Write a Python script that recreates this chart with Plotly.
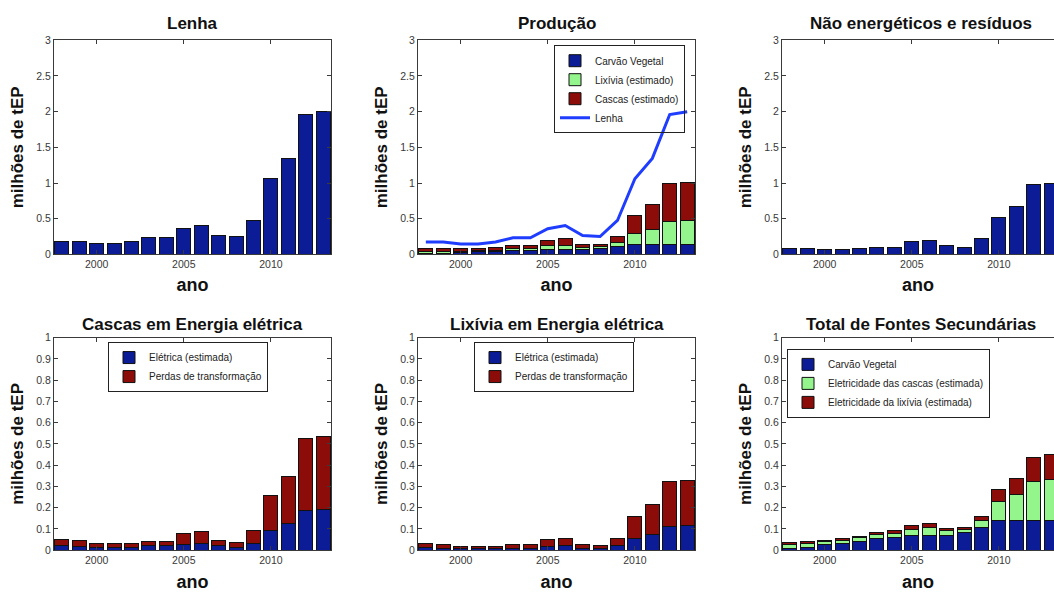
import plotly.graph_objects as go

# Anos da série
anos = list(range(1998, 2014))

# Lenha consumida (milhões de tEP)
lenha = [0.174, 0.174, 0.146, 0.146, 0.174, 0.233, 0.233, 0.36, 0.405, 0.265,
         0.25, 0.475, 1.06, 1.345, 1.96, 2.0]

# Usos não energéticos e resíduos
nao_energeticos = [0.087, 0.087, 0.072, 0.072, 0.087, 0.10, 0.10, 0.175, 0.19, 0.12,
                   0.10, 0.22, 0.52, 0.665, 0.975, 1.0]

# Carvão vegetal produzido
carvao = [0.006, 0.015, 0.025, 0.034, 0.043, 0.055, 0.061, 0.071, 0.071, 0.071,
          0.083, 0.105, 0.138, 0.138, 0.138, 0.142]

# Cascas convertidas em energia elétrica
cascas_eletrica = [0.020, 0.018, 0.015, 0.014, 0.015, 0.020, 0.020, 0.027, 0.034, 0.020,
                   0.015, 0.034, 0.092, 0.125, 0.186, 0.191]
cascas_perdas = [0.030, 0.028, 0.019, 0.017, 0.019, 0.021, 0.021, 0.052, 0.056, 0.026,
                 0.022, 0.061, 0.164, 0.220, 0.341, 0.346]

# Lixívia convertida em energia elétrica
lixivia_eletrica = [0.012, 0.010, 0.008, 0.008, 0.008, 0.010, 0.010, 0.017, 0.021, 0.010,
                    0.008, 0.021, 0.055, 0.074, 0.112, 0.117]
lixivia_perdas = [0.019, 0.016, 0.010, 0.010, 0.010, 0.016, 0.016, 0.034, 0.036, 0.016,
                  0.013, 0.036, 0.102, 0.140, 0.213, 0.212]

# Totais estimados de cascas e lixívia
cascas_total = [a + b for a, b in zip(cascas_eletrica, cascas_perdas)]
lixivia_total = [a + b for a, b in zip(lixivia_eletrica, lixivia_perdas)]

titulos = ["Lenha", "Produção", "Não energéticos e resíduos",
           "Cascas em Energia elétrica", "Lixívia em Energia elétrica",
           "Total de Fontes Secundárias"]

AZUL = "#0b1c96"
VERDE = "#94f58c"
VERMELHO = "#8b0c08"
LINHA = "#1f3dff"
BORDA = dict(color="#111111", width=1)
FONTE = "Liberation Sans, Arial, sans-serif"

W, H = 1054, 592
col_px = [(54, 331), (418, 695), (782, 1059)]
row_px = [(35, 253.5), (338.5, 555.5)]

fig = go.Figure()


def barra(y, cor, nome, eixo, legenda=None):
    return go.Bar(
        x=anos, y=y, name=nome, marker=dict(color=cor, line=BORDA),
        xaxis="x" + eixo, yaxis="y" + eixo,
        showlegend=legenda is not None, legend=legenda or "legend",
    )


# Painel 1: Lenha
fig.add_trace(barra(lenha, AZUL, "Lenha", ""))

# Painel 2: Produção
fig.add_trace(barra(carvao, AZUL, "Carvão Vegetal", "2", "legend"))
fig.add_trace(barra(lixivia_total, VERDE, "Lixívia (estimado)", "2", "legend"))
fig.add_trace(barra(cascas_total, VERMELHO, "Cascas (estimado)", "2", "legend"))
fig.add_trace(go.Scatter(x=anos, y=lenha, mode="lines", name="Lenha",
                         line=dict(color=LINHA, width=3),
                         xaxis="x2", yaxis="y2", legend="legend"))

# Painel 3: Não energéticos e resíduos
fig.add_trace(barra(nao_energeticos, AZUL, "Não energéticos", "3"))

# Painel 4: Cascas em energia elétrica
fig.add_trace(barra(cascas_eletrica, AZUL, "Elétrica (estimada)", "4", "legend2"))
fig.add_trace(barra(cascas_perdas, VERMELHO, "Perdas de transformação", "4", "legend2"))

# Painel 5: Lixívia em energia elétrica
fig.add_trace(barra(lixivia_eletrica, AZUL, "Elétrica (estimada)", "5", "legend3"))
fig.add_trace(barra(lixivia_perdas, VERMELHO, "Perdas de transformação", "5", "legend3"))

# Painel 6: Total de fontes secundárias
fig.add_trace(barra(carvao, AZUL, "Carvão Vegetal", "6", "legend4"))
fig.add_trace(barra(cascas_eletrica, VERDE, "Eletricidade das cascas (estimada)", "6", "legend4"))
fig.add_trace(barra(lixivia_eletrica, VERMELHO, "Eletricidade da lixívia (estimada)", "6", "legend4"))

eixo_base = dict(
    showline=True, linecolor="#3a3a3a", linewidth=1, ticks="inside", ticklen=4,
    tickcolor="#3a3a3a", tickfont=dict(size=10.5, color="#383838", family=FONTE),
    showgrid=False, zeroline=False, fixedrange=True,
)

layout = dict(
    width=W, height=H, margin=dict(l=0, r=0, t=0, b=0),
    paper_bgcolor="white", plot_bgcolor="white",
    barmode="stack", bargap=0.2,
    font=dict(family=FONTE, color="#111111"),
    annotations=[],
)

passo = (col_px[0][1] - col_px[0][0]) / 15.9
for i in range(6):
    lin, col = divmod(i, 3)
    sufixo = "" if i == 0 else str(i + 1)
    x0, x1 = col_px[col]
    y0, y1 = row_px[lin]
    x1_vis = min(x1, W)
    x_max = 1997.55 + (x1_vis - x0) / passo
    corte = x1 > W
    xa = dict(eixo_base, domain=[x0 / W, x1_vis / W], range=[1997.55, x_max],
              tickvals=[2000, 2005, 2010], mirror="ticks",
              anchor="y" + sufixo,
              title=dict(text="ano", standoff=9 if lin == 0 else 11,
                         font=dict(size=18, weight="bold", family=FONTE)))
    ya = dict(eixo_base, domain=[1 - y1 / H, 1 - y0 / H],
              mirror=False if corte else "ticks", anchor="x" + sufixo,
              title=dict(text="milhões de tEP", standoff=8,
                         font=dict(size=17, weight="bold", family=FONTE)))
    if lin == 0:
        ya.update(range=[0, 3], dtick=0.5)
    else:
        ya.update(range=[0, 1], dtick=0.1)
    layout["xaxis" + sufixo] = xa
    layout["yaxis" + sufixo] = ya
    layout["annotations"].append(dict(
        text=titulos[i], xref="paper", yref="paper",
        x=((x0 + x1) / 2) / W, y=1 - y0 / H, xanchor="center", yanchor="bottom",
        showarrow=False, yshift=5 if lin == 0 else 2,
        font=dict(size=17, weight="bold", family=FONTE, color="#111111"),
    ))

legenda_base = dict(
    xanchor="left", yanchor="top", bgcolor="white", bordercolor="#222222",
    borderwidth=1, font=dict(size=10, color="#222222", family=FONTE),
    traceorder="normal", tracegroupgap=0, itemwidth=30,
)
# A linha da lenha passa sob a legenda da produção: fundo transparente
layout["legend"] = dict(legenda_base, x=554 / W, y=1 - 40 / H,
                        bgcolor="rgba(255,255,255,0)")
layout["legend2"] = dict(legenda_base, x=108 / W, y=1 - 343 / H)
layout["legend3"] = dict(legenda_base, x=474 / W, y=1 - 343 / H)
layout["legend4"] = dict(legenda_base, x=787 / W, y=1 - 350 / H)

fig.update_layout(**layout)
fig.write_html("out.html")
